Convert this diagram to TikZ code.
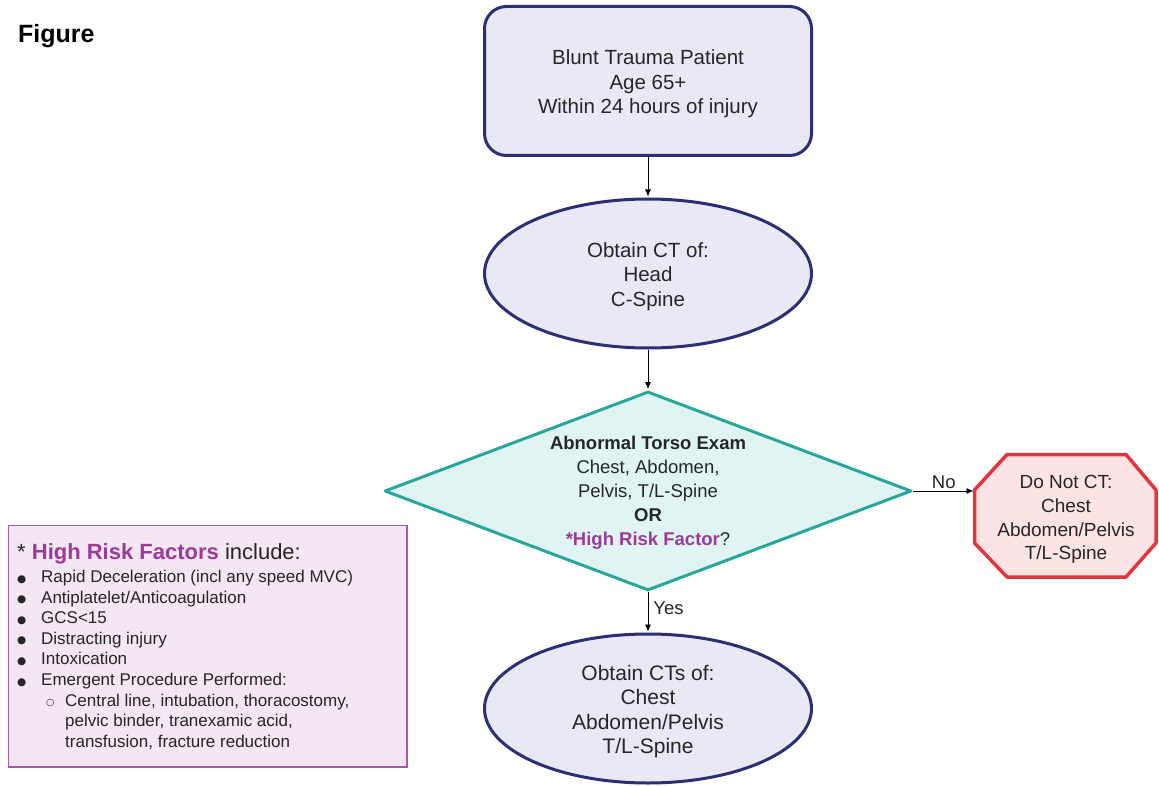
\documentclass[tikz,border=0pt]{standalone}
\usepackage{fontspec}
\setmainfont{Liberation Sans}
\newfontfamily\dejavu{DejaVu Sans}
\usetikzlibrary{shapes.geometric,arrows.meta}
\definecolor{navy}{HTML}{2C2F74}
\definecolor{lav}{HTML}{E8E9F4}
\definecolor{tealb}{HTML}{2AA79B}
\definecolor{cyanf}{HTML}{E0F4F4}
\definecolor{redb}{HTML}{E3353F}
\definecolor{pinkf}{HTML}{FCE3E4}
\definecolor{purpleb}{HTML}{A35CA6}
\definecolor{purplef}{HTML}{F4E6F2}
\definecolor{hp}{HTML}{9A3B9A}
\definecolor{txt}{HTML}{262626}
\newcommand{\bul}{\makebox[24pt][l]{\raisebox{0.5pt}{\dejavu\fontsize{10.5}{10.5}\selectfont ●}}}
\newcommand{\ring}{\makebox[19pt][l]{\raisebox{0.5pt}{\dejavu\fontsize{9.5}{9.5}\selectfont ○}}}
\begin{document}
\begin{tikzpicture}[x=1pt,y=-1pt,
  flowbox/.style={draw=navy, line width=3pt, fill=lav, text=txt, align=center,
    inner sep=0pt, minimum width=327pt, minimum height=149pt,
    font=\fontsize{20.5}{24.5}\selectfont},
  roundbox/.style={flowbox, rectangle, rounded corners=22pt},
  ovalbox/.style={flowbox, ellipse},
  arr/.style={-{Latex[length=7pt,width=6pt]}, line width=0.9pt, black, shorten >=1pt},
  lbl/.style={text=txt, font=\fontsize{18.5}{22}\selectfont, inner sep=2pt},
  riskline/.style={anchor=base west, inner sep=0pt, text=txt, font=\fontsize{17}{20}\selectfont}
]
\useasboundingbox (0,0) rectangle (1159,786);
\fill[white] (0,0) rectangle (1159,786);

\node[anchor=base west, inner sep=0pt, font=\bfseries\fontsize{25}{30}\selectfont] (fig) at (18,43) {Figure};

% main flow
\node[roundbox] (start) at (648,81) {};
\node[align=center, text=txt, inner sep=0pt, font=\fontsize{20.5}{24.5}\selectfont] (starttext) at (648,84)
  {Blunt Trauma Patient\\Age 65+\\Within 24 hours of injury};
\node[ovalbox] (ct1) at (648,273.5) {};
\node[align=center, text=txt, inner sep=0pt, font=\fontsize{20.5}{24.5}\selectfont] (ct1text) at (648,276.5)
  {Obtain CT of:\\Head\\C-Spine};
\node[diamond, draw=tealb, fill=cyanf, line width=3pt, line join=round, inner sep=0pt,
      minimum width=527pt, minimum height=199pt] (dq) at (648,491) {};
\node[align=center, text=txt, inner sep=0pt, font=\fontsize{18.5}{24}\selectfont] (dqtext) at (648,492.5)
  {\textbf{Abnormal Torso Exam}\\Chest, Abdomen,\\Pelvis, T/L-Spine\\\textbf{OR}\\\textcolor{hp}{\textbf{*High Risk Factor}}?};
\node[ovalbox] (ct2) at (648,708.5) {};
\node[align=center, text=txt, inner sep=0pt, font=\fontsize{21}{24.5}\selectfont] (ct2text) at (648,711.5)
  {Obtain CTs of:\\Chest\\Abdomen/Pelvis\\T/L-Spine};

% octagon
\draw[draw=redb, fill=pinkf, line width=3.5pt, line join=round]
  (1007,454.5) -- (1126,454.5) -- (1156,490) -- (1156,543) -- (1126,577) -- (1007,577) -- (974.5,543) -- (974.5,490) -- cycle;
\coordinate (octL) at (974.5,491);
\node[align=center, text=txt, inner sep=0pt, font=\fontsize{19}{23.7}\selectfont] (noct) at (1066,519.5)
  {Do Not CT:\\Chest\\Abdomen/Pelvis\\T/L-Spine};

% connectors
\draw[arr] (start.south) -- (ct1.north);
\draw[arr] (ct1.south) -- (dq.north);
\draw[arr] (dq.south) -- node[lbl, pos=0.4, anchor=west, xshift=3pt] (yes) {Yes} (ct2.north);
\draw[arr] (dq.east) -- node[lbl, above] (no) {No} (octL);

% high risk factor box
\node[draw=purpleb, fill=purplef, line width=1.5pt, inner sep=0pt, anchor=north west,
      minimum width=398.5pt, minimum height=241.5pt] (riskbox) at (7.75,524.75) {};
\node[anchor=base west, inner sep=0pt, text=txt, font=\fontsize{22}{26}\selectfont] (rh) at (17,559)
  {* \textcolor{hp}{\textbf{High Risk Factors}} include:};
\node[riskline] (r1) at (17,582.5) {\bul Rapid Deceleration (incl any speed MVC)};
\node[riskline] (r2) at (17,603.1) {\bul Antiplatelet/Anticoagulation};
\node[riskline] (r3) at (17,623.7) {\bul GCS<15};
\node[riskline] (r4) at (17,644.3) {\bul Distracting injury};
\node[riskline] (r5) at (17,664.9) {\bul Intoxication};
\node[riskline] (r6) at (17,685.5) {\bul Emergent Procedure Performed:};
\node[riskline] (r7) at (46,706.1) {\ring Central line, intubation, thoracostomy,};
\node[riskline] (r8) at (65,726.7) {pelvic binder, tranexamic acid,};
\node[riskline] (r9) at (65,747.3) {transfusion, fracture reduction};
\end{tikzpicture}
\end{document}
